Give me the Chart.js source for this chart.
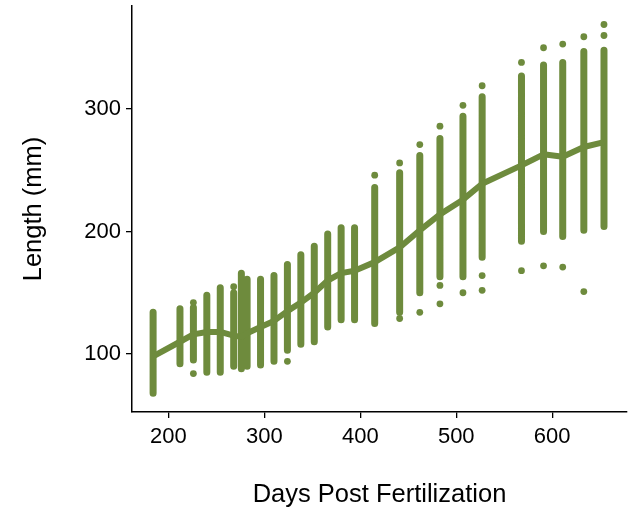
<!DOCTYPE html>
<html>
<head>
<meta charset="utf-8">
<script src="https://cdn.jsdelivr.net/npm/chart.js@4/dist/chart.umd.min.js"></script>
<style>
  html, body { margin: 0; padding: 0; background: #ffffff; }
  #wrap { width: 631px; height: 508px; position: relative; }
</style>
</head>
<body>
<div id="wrap"><canvas id="c" width="631" height="508"></canvas></div>
<script>
// ---- Data ----
// Sampling days (days post fertilization)
const days = [184, 212, 226, 240, 254, 268, 276, 282, 296, 310, 324, 338, 352, 366, 380, 394, 415, 441, 462, 483, 507, 527, 568, 591, 611, 633, 654];
// Lowest and highest length of the dense run of points at each day (mm)
const lowLength  = [68, 92, 95, 85, 85, 90, 88, 90, 91, 94, 103, 108, 110, 122, 128, 128, 125, 134, 150, 163, 163, 179, 192, 200, 196, 201, 204];
const highLength = [134, 137, 138, 148, 154, 150, 166, 161, 161, 164, 173, 181, 188, 198, 203, 203, 236, 248, 262, 276, 294, 310, 327, 336, 338, 347, 348];
// Isolated fish standing apart from each column
const extraDays    = [226, 226, 268, 324, 415, 441, 441, 462, 462, 483, 483, 483, 507, 507, 527, 527, 527, 568, 568, 591, 591, 611, 611, 633, 633, 654, 654];
const extraLengths = [142, 84, 155, 94, 246, 256, 129, 271, 134, 286, 156, 141, 303, 150, 319, 164, 152, 338, 168, 350, 172, 353, 171, 359, 151, 369, 360];
// Mean length per day (thick line)
const meanLength = [98, 110, 116, 118, 118, 115, 114, 117, 122, 127, 135, 142, 150, 160, 166, 168, 175, 187, 201, 214, 226, 239, 254, 263, 261, 269, 273];
// Tick labels
const xTicks = [200, 300, 400, 500, 600];
const yTicks = [100, 200, 300];

const green = '#6E8B3D';
const font = "'Liberation Sans', Arial, Helvetica, sans-serif";

// Column runs: two points per day, separated by gaps
const columnData = [];
days.forEach((d, i) => {
  columnData.push({x: d, y: lowLength[i]});
  columnData.push({x: d, y: highLength[i]});
  columnData.push({x: d, y: null});
});
const extraData = extraDays.map((d, i) => ({x: d, y: extraLengths[i]}));
const meanData = days.map((d, i) => ({x: d, y: meanLength[i]}));

new Chart(document.getElementById('c'), {
  type: 'scatter',
  data: {
    datasets: [
      {
        type: 'line', data: columnData, borderColor: green, borderWidth: 7,
        borderCapStyle: 'round', pointRadius: 0, spanGaps: false, tension: 0, order: 3
      },
      {
        type: 'scatter', data: extraData, backgroundColor: green, borderWidth: 0,
        pointRadius: 3.4, pointHoverRadius: 3.4, order: 2
      },
      {
        type: 'line', data: meanData, borderColor: green, borderWidth: 6,
        borderJoinStyle: 'round', borderCapStyle: 'butt', pointRadius: 0, tension: 0, order: 1
      }
    ]
  },
  options: {
    responsive: false,
    animation: false,
    events: [],
    layout: { padding: { top: 6, right: 4, left: 0, bottom: 0 } },
    plugins: { legend: { display: false }, tooltip: { enabled: false } },
    scales: {
      x: {
        type: 'linear', min: 162, max: 678,
        afterBuildTicks: s => { s.ticks = xTicks.map(v => ({value: v})); },
        afterFit: s => { s.height = 96; s.paddingLeft = 0; s.paddingRight = 0; },
        grid: { display: true, drawOnChartArea: false, drawTicks: true, tickLength: 6, color: '#000', lineWidth: 1.3 },
        border: { display: true, color: '#000', width: 1.5 },
        ticks: { color: '#000', font: { family: font, size: 22 }, padding: 6, maxRotation: 0, autoSkip: false },
        title: { display: true, text: 'Days Post Fertilization', color: '#000',
                 font: { family: font, size: 25.5, lineHeight: 1.0 }, padding: { top: 0, bottom: 0 } }
      },
      y: {
        type: 'linear', min: 52.65, max: 384.1,
        afterBuildTicks: s => { s.ticks = yTicks.map(v => ({value: v})); },
        afterFit: s => { s.width = 132; s.paddingTop = 0; s.paddingBottom = 0; },
        grid: { display: true, drawOnChartArea: false, drawTicks: true, tickLength: 6, color: '#000', lineWidth: 1.3 },
        border: { display: true, color: '#000', width: 1.5 },
        ticks: { color: '#000', font: { family: font, size: 22 }, padding: 5, autoSkip: false },
        title: { display: true, text: 'Length (mm)', color: '#000',
                 font: { family: font, size: 25.5 }, padding: { top: 19, bottom: 0 } }
      }
    }
  }
});
</script>
</body>
</html>
